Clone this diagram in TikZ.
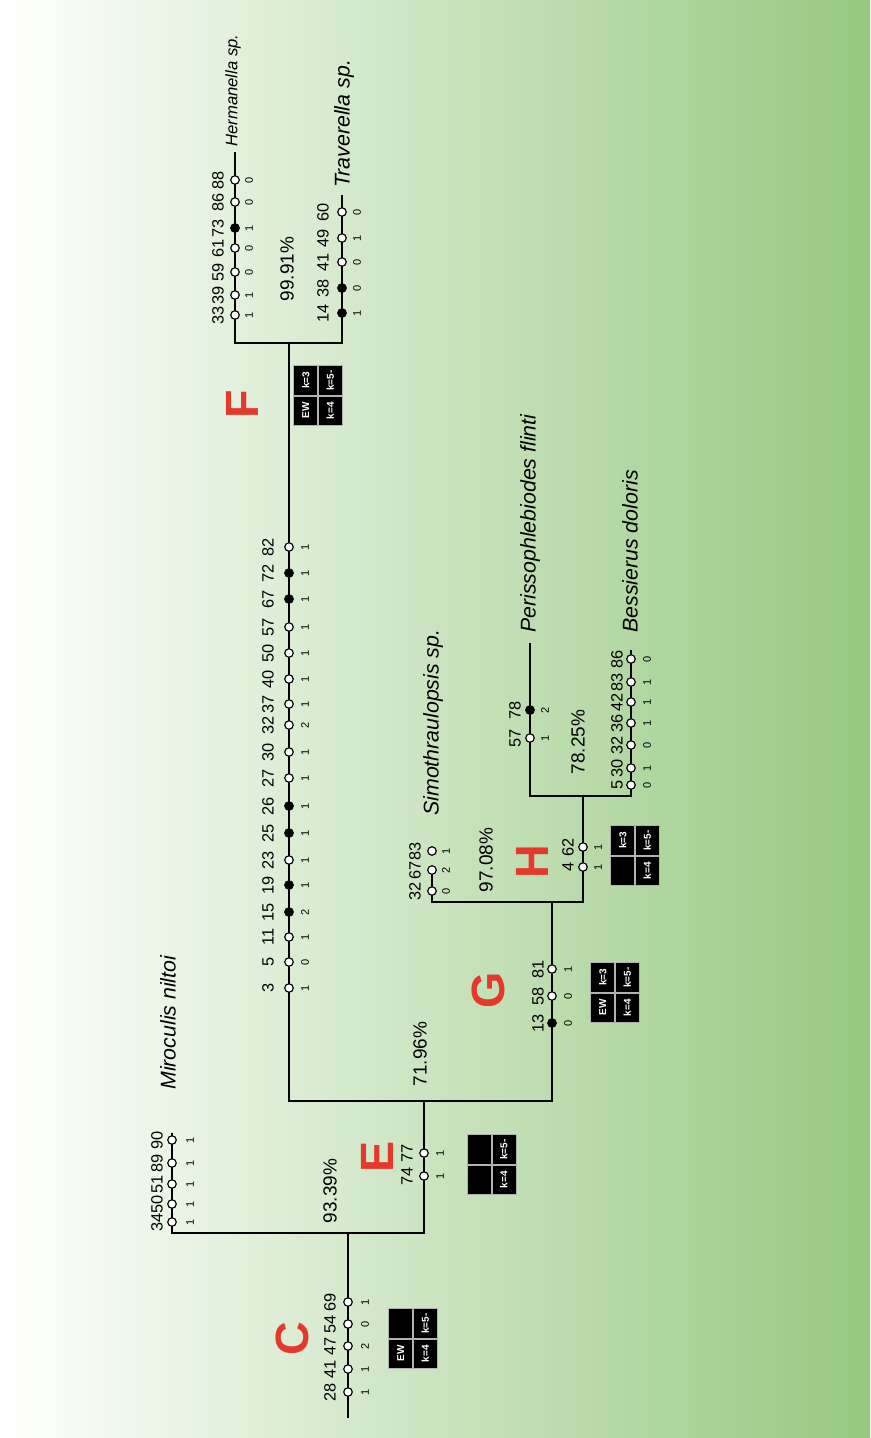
\documentclass[tikz,border=0pt]{standalone}
\usepackage{fontspec}
\setmainfont{Liberation Sans}
\usetikzlibrary{positioning}
\definecolor{cladered}{RGB}{228,57,44}
\definecolor{bggreen}{RGB}{150,200,128}
\newcommand{\supbox}[6]{%
  \node[cell, anchor=south east] (#1-1) at (#2) {#3};
  \node[cell, anchor=south west] (#1-2) at (#2) {#4};
  \node[cell, anchor=north east] (#1-3) at (#2) {#5};
  \node[cell, anchor=north west] (#1-4) at (#2) {#6};
}

\begin{document}
\begin{tikzpicture}[
    x=0.6pt, y=0.6pt,
    branch/.style={line width=0.95pt, black},
    chr/.style={circle, draw=black, line width=0.7pt, fill=white,
                inner sep=0pt, minimum size=5.1pt},
    num/.style={inner sep=0pt, font=\fontsize{9.8}{9.8}\selectfont},
    st/.style={inner sep=0pt, font=\fontsize{6.6}{6.6}\selectfont},
    taxon/.style={anchor=west, inner sep=0pt,
                  font=\itshape\fontsize{12.8}{12.8}\selectfont},
    pct/.style={inner sep=0pt, font=\fontsize{11.4}{11.4}\selectfont},
    clade/.style={inner sep=0pt, text=cladered,
                  font=\bfseries\fontsize{28}{28}\selectfont},
    cell/.style={rectangle, fill=black, draw=gray!60, line width=0.35pt,
                 minimum width=17.7pt, minimum height=14.4pt, inner sep=0pt,
                 text=white, font=\bfseries\fontsize{6}{6}\selectfont}
  ]
  \useasboundingbox (0,0) rectangle (870,-1438);
  \shade[left color=white, right color=bggreen] (0,0) rectangle (870,-1438);

  % tree drawn lying down, then turned upright
  \begin{scope}[shift={(870,-1438)}, rotate=90, transform shape]
  \coordinate (root) at (20,522);
  \coordinate (nC) at (205,522);
  \coordinate (nCa) at (205,698);
  \coordinate (nCb) at (205,446);
  \coordinate (tMir) at (305,698);
  \coordinate (nE) at (337,446);
  \coordinate (nEa) at (337,581);
  \coordinate (nEb) at (337,318);
  \coordinate (nF) at (1095,581);
  \coordinate (nFa) at (1095,635);
  \coordinate (nFb) at (1095,528);
  \coordinate (tHer) at (1286,635);
  \coordinate (tTra) at (1243,528);
  \coordinate (nG) at (536,318);
  \coordinate (nGa) at (536,438);
  \coordinate (nGb) at (536,287);
  \coordinate (tSim) at (568,438);
  \coordinate (nH) at (642,287);
  \coordinate (nHa) at (642,340);
  \coordinate (nHb) at (642,239);
  \coordinate (tPer) at (795,340);
  \coordinate (tBes) at (788,239);

  \draw[branch] (root) -- (nC);
  \draw[branch] (tMir) -- (nCa) -- (nCb) -- (nE);
  \draw[branch] (nF) -- (nEa) -- (nEb) -- (nG);
  \draw[branch] (tHer) -- (nFa) -- (nFb) -- (tTra);
  \draw[branch] (tSim) -- (nGa) -- (nGb) -- (nH);
  \draw[branch] (tPer) -- (nHa) -- (nHb) -- (tBes);

  % characters: position/number/state/fill
  \foreach \cx/\cn/\cs/\cf in {46/28/1/white, 69/41/1/white, 92/47/2/white,
      114/54/0/white, 136/69/1/white}{
    \node[chr, fill=\cf] (C-\cn) at (\cx,522) {};
    \node[num] (C-\cn-n) at (\cx,540) {\cn};
    \node[st] (C-\cn-s) at (\cx,505) {\cs};
  }
  \foreach \cx/\cn/\cs/\cf in {216/34/1/white, 234/50/1/white, 254/51/1/white,
      275/89/1/white, 298/90/1/white}{
    \node[chr, fill=\cf] (Mir-\cn) at (\cx,698) {};
    \node[num] (Mir-\cn-n) at (\cx,713) {\cn};
    \node[st] (Mir-\cn-s) at (\cx,680) {\cs};
  }
  \foreach \cx/\cn/\cs/\cf in {262/74/1/white, 285/77/1/white}{
    \node[chr, fill=\cf] (E-\cn) at (\cx,446) {};
    \node[num] (E-\cn-n) at (\cx,463) {\cn};
    \node[st] (E-\cn-s) at (\cx,430) {\cs};
  }
  \foreach \cx/\cn/\cs/\cf in {450/3/1/white, 476/5/0/white, 501/11/1/white,
      526/15/2/black, 553/19/1/black, 578/23/1/white, 605/25/1/black,
      632/26/1/black, 660/27/1/white, 686/30/1/white, 713/32/2/white,
      734/37/1/white, 759/40/1/white, 785/50/1/white, 811/57/1/white,
      839/67/1/black, 865/72/1/black, 891/82/1/white}{
    \node[chr, fill=\cf] (F-\cn) at (\cx,581) {};
    \node[num] (F-\cn-n) at (\cx,602) {\cn};
    \node[st] (F-\cn-s) at (\cx,565) {\cs};
  }
  \foreach \cx/\cn/\cs/\cf in {1123/33/1/white, 1143/39/1/white, 1166/59/0/white,
      1190/61/0/white, 1210/73/1/black, 1236/86/0/white, 1258/88/0/white}{
    \node[chr, fill=\cf] (Her-\cn) at (\cx,635) {};
    \node[num] (Her-\cn-n) at (\cx,652) {\cn};
    \node[st] (Her-\cn-s) at (\cx,621) {\cs};
  }
  \foreach \cx/\cn/\cs/\cf in {1125/14/1/black, 1150/38/0/black, 1176/41/0/white,
      1200/49/1/white, 1226/60/0/white}{
    \node[chr, fill=\cf] (Tra-\cn) at (\cx,528) {};
    \node[num] (Tra-\cn-n) at (\cx,547) {\cn};
    \node[st] (Tra-\cn-s) at (\cx,513) {\cs};
  }
  \foreach \cx/\cn/\cs/\cf in {415/13/0/black, 442/58/0/white, 469/81/1/white}{
    \node[chr, fill=\cf] (G-\cn) at (\cx,318) {};
    \node[num] (G-\cn-n) at (\cx,332) {\cn};
    \node[st] (G-\cn-s) at (\cx,302) {\cs};
  }
  \foreach \cx/\cn/\cs/\cf in {547/32/0/white, 568/67/2/white, 587/83/1/white}{
    \node[chr, fill=\cf] (Sim-\cn) at (\cx,438) {};
    \node[num] (Sim-\cn-n) at (\cx,455) {\cn};
    \node[st] (Sim-\cn-s) at (\cx,424) {\cs};
  }
  \foreach \cx/\cn/\cs/\cf in {571/4/1/white, 591/62/1/white}{
    \node[chr, fill=\cf] (H-\cn) at (\cx,287) {};
    \node[num] (H-\cn-n) at (\cx,302) {\cn};
    \node[st] (H-\cn-s) at (\cx,272) {\cs};
  }
  \foreach \cx/\cn/\cs/\cf in {700/57/1/white, 728/78/2/black}{
    \node[chr, fill=\cf] (Per-\cn) at (\cx,340) {};
    \node[num] (Per-\cn-n) at (\cx,355) {\cn};
    \node[st] (Per-\cn-s) at (\cx,325) {\cs};
  }
  \foreach \cx/\cn/\cs/\cf in {653/5/0/white, 670/30/1/white, 693/32/0/white,
      715/36/1/white, 736/42/1/white, 756/83/1/white, 779/86/0/white}{
    \node[chr, fill=\cf] (Bes-\cn) at (\cx,239) {};
    \node[num] (Bes-\cn-n) at (\cx,253) {\cn};
    \node[st] (Bes-\cn-s) at (\cx,223) {\cs};
  }

  \node[taxon] (lMir) at (348,702) {Miroculis niltoi};
  \node[taxon, font=\itshape\fontsize{10}{10}\selectfont] (lHer) at (1291,637) {Hermanella sp.};
  \node[taxon] (lTra) at (1250,526) {Traverella sp.};
  \node[taxon] (lSim) at (622,437) {Simothraulopsis sp.};
  \node[taxon] (lPer) at (805,340) {Perissophlebiodes flinti};
  \node[taxon] (lBes) at (805,240) {Bessierus doloris};

  \node[pct] (p93) at (247,540) {93.39\%};
  \node[pct] (p72) at (384,450) {71.96\%};
  \node[pct] (p99) at (1169,583) {99.91\%};
  \node[pct] (p97) at (578,384) {97.08\%};
  \node[pct] (p78) at (696,292) {78.25\%};

  \node[clade] (cC) at (99,578) {C};
  \node[clade] (cE) at (281,493) {E};
  \node[clade] (cF) at (1034,628) {F};
  \node[clade] (cG) at (448,382) {G};
  \node[clade] (cH) at (576,338) {H};

  \supbox{bC}{99.5,457}{EW}{}{k=4}{k=5-}
  \supbox{bE}{273.5,378.5}{}{}{k=4}{k=5-}
  \supbox{bF}{1042.5,552}{EW}{k=3}{k=4}{k=5-}
  \supbox{bG}{445.5,255}{EW}{k=3}{k=4}{k=5-}
  \supbox{bH}{582.5,235}{}{k=3}{k=4}{k=5-}
  \end{scope}
\end{tikzpicture}
\end{document}
